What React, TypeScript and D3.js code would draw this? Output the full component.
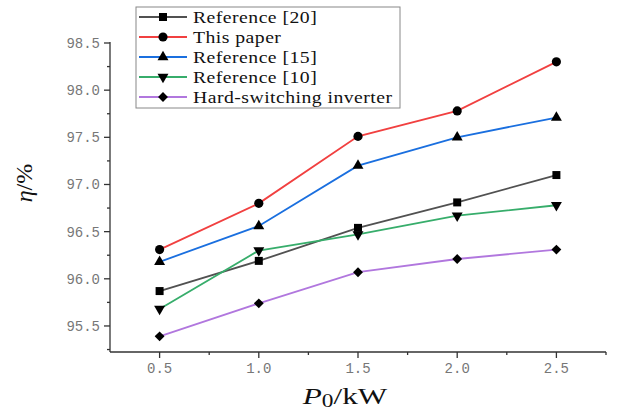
import * as d3 from "d3";

const xValues = [0.5, 1.0, 1.5, 2.0, 2.5];
const ref20 = [95.87, 96.19, 96.54, 96.81, 97.1];
const thisPaper = [96.31, 96.8, 97.51, 97.78, 98.3];
const ref15 = [96.18, 96.56, 97.2, 97.5, 97.71];
const ref10 = [95.68, 96.3, 96.47, 96.67, 96.78];
const hardSwitching = [95.39, 95.74, 96.07, 96.21, 96.31];

const seriesNames = ["Reference [20]", "This paper", "Reference [15]", "Reference [10]", "Hard-switching inverter"];
const seriesColors = ["#515151", "#F14040", "#1A6FDF", "#37AD6B", "#B177DE"];

const xTicks = [0.5, 1.0, 1.5, 2.0, 2.5];
const xMinorTicks = [0.75, 1.25, 1.75, 2.25, 2.75];
const yTicks = [95.5, 96.0, 96.5, 97.0, 97.5, 98.0, 98.5];
const yMinorTicks = [95.25, 95.75, 96.25, 96.75, 97.25, 97.75, 98.25];

const width = 629;
const height = 413;
const left = 110;
const right = 606;
const top = 43;
const bottom = 352;

export default function App() {
  const x = d3.scaleLinear().domain([0.25, 2.75]).range([left, right]);
  const y = d3.scaleLinear().domain([95.224, 98.5]).range([bottom, top]);

  const data = [ref20, thisPaper, ref15, ref10, hardSwitching];
  const symbols = [
    { type: d3.symbolSquare, size: 64, rot: 0 },
    { type: d3.symbolCircle, size: 66, rot: 0 },
    { type: d3.symbolTriangle, size: 52, rot: 0 },
    { type: d3.symbolTriangle, size: 52, rot: 180 },
    { type: d3.symbolDiamond2, size: 62, rot: 0 },
  ];

  const line = d3
    .line<number>()
    .x((_, i) => x(xValues[i]))
    .y((d) => y(d));

  const fmt = d3.format(".1f");
  const tickFont = "'Liberation Mono', 'DejaVu Sans Mono', monospace";
  const serif = "'Liberation Serif', 'Times New Roman', serif";

  return (
    <svg width={width} height={height} style={{ position: "absolute", left: 0, top: 0, background: "#fff" }}>
      {/* axes */}
      <g stroke="#333" strokeWidth={1.3}>
        <line x1={left} x2={left} y1={top - 1} y2={bottom} />
        <line x1={left} x2={right} y1={bottom} y2={bottom} />
        {yTicks.map((t) => (
          <line key={"yt" + t} x1={left - 6} x2={left} y1={y(t)} y2={y(t)} />
        ))}
        {yMinorTicks.map((t) => (
          <line key={"ym" + t} x1={left - 3} x2={left} y1={y(t)} y2={y(t)} />
        ))}
        {xTicks.map((t) => (
          <line key={"xt" + t} x1={x(t)} x2={x(t)} y1={bottom} y2={bottom + 6} />
        ))}
        {xMinorTicks.map((t) => (
          <line key={"xm" + t} x1={x(t)} x2={x(t)} y1={bottom} y2={bottom + 3} />
        ))}
      </g>
      <g fill="#777" fontFamily={tickFont} fontSize={14}>
        {yTicks.map((t) => (
          <text key={"yl" + t} x={left - 10} y={y(t)} dy="0.35em" textAnchor="end">
            {fmt(t)}
          </text>
        ))}
        {xTicks.map((t) => (
          <text key={"xl" + t} x={x(t)} y={bottom + 16} dy="0.35em" textAnchor="middle">
            {fmt(t)}
          </text>
        ))}
      </g>

      {/* axis titles */}
      <text
        transform="translate(345,404) scale(1.3,1)"
        textAnchor="middle"
        fontFamily={serif}
        fontSize={24}
        fill="#111"
      >
        <tspan fontStyle="italic">P</tspan>
        <tspan fontSize={18} dy={3}>0</tspan>
        <tspan dy={-3}>/kW</tspan>
      </text>
      <text
        transform="translate(32,183) rotate(-90)"
        textAnchor="middle"
        fontFamily={serif}
        fontSize={24}
        fill="#111"
      >
        <tspan fontStyle="italic">η</tspan>
        <tspan>/%</tspan>
      </text>

      {/* series */}
      {data.map((vals, si) => (
        <g key={"s" + si}>
          <path d={line(vals) || ""} fill="none" stroke={seriesColors[si]} strokeWidth={1.8} />
          {vals.map((v, i) => (
            <path
              key={i}
              d={d3.symbol().type(symbols[si].type).size(symbols[si].size)() || ""}
              transform={`translate(${x(xValues[i])},${y(v)}) rotate(${symbols[si].rot})`}
              fill="#000"
            />
          ))}
        </g>
      ))}

      {/* legend */}
      <g>
        <rect x={136} y={7} width={264} height={101} fill="#fff" stroke="#888" strokeWidth={1} />
        {seriesNames.map((name, i) => {
          const ly = 17 + i * 20;
          return (
            <g key={name}>
              <line x1={139} x2={187} y1={ly} y2={ly} stroke={seriesColors[i]} strokeWidth={1.8} />
              <path
                d={d3.symbol().type(symbols[i].type).size(symbols[i].size)() || ""}
                transform={`translate(163,${ly}) rotate(${symbols[i].rot})`}
                fill="#000"
              />
              <text
                transform={`translate(193,${ly}) scale(1.16,1)`}
                dy="0.35em"
                fontFamily={serif}
                fontSize={17}
                letterSpacing={0.4}
                fill="#111"
              >
                {name}
              </text>
            </g>
          );
        })}
      </g>
    </svg>
  );
}
